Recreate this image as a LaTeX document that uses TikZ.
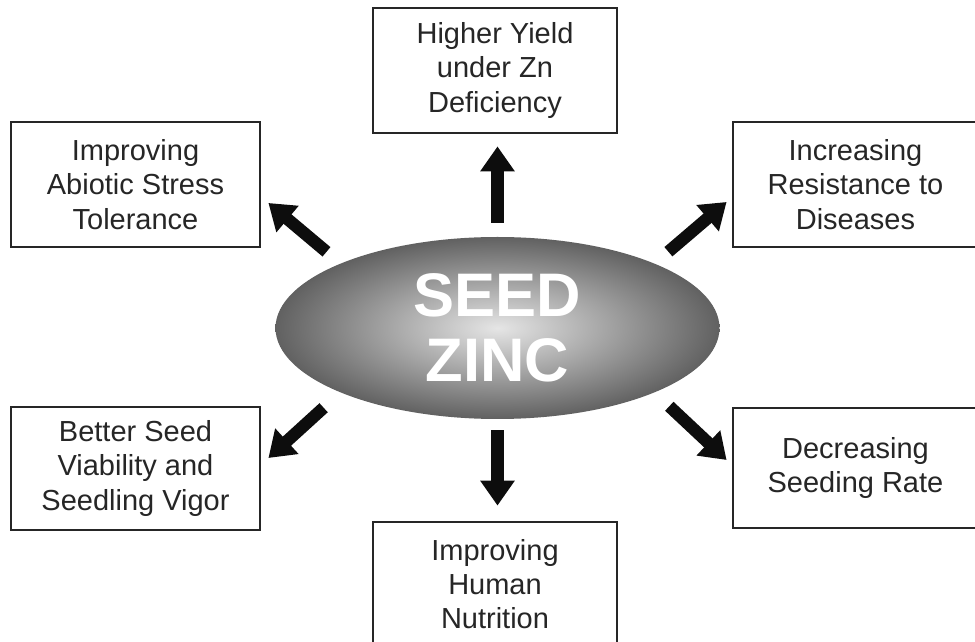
\documentclass[tikz,border=0pt]{standalone}
\usepackage{fontspec}
\setmainfont{Liberation Sans}
\usetikzlibrary{arrows.meta,positioning,calc,shapes.geometric}
\tikzset{
  doboz/.style={draw=black!85,line width=1.6pt,fill=white,align=center,inner sep=2pt,
    font=\fontsize{16.5}{19.5}\selectfont,text=black!85},
  ellip/.style={ellipse,inner sep=0pt,minimum width=8.88cm,minimum height=3.64cm,
    shading=radial,inner color=black!10,outer color=black!62,text=white,align=center,
    font=\bfseries\fontsize{35}{37}\selectfont},
  vastag/.style={line width=7pt,black!95,-{Triangle[width=0.66cm,length=0.5cm]}},
}

\begin{document}
\begin{tikzpicture}
  \useasboundingbox (0,0) rectangle (19.5,12.84);
  \node[ellip] (mag) at (9.95,6.28) {SEED\\ZINC};
  \node[doboz,minimum width=4.88cm,minimum height=2.5cm] (fent) at (9.9,11.43) {Higher Yield\\under Zn\\Deficiency};
  \node[doboz,minimum width=4.98cm,minimum height=2.5cm] (balfent) at (2.71,9.15) {Improving\\Abiotic Stress\\Tolerance};
  \node[doboz,minimum width=4.9cm,minimum height=2.5cm] (jobbfent) at (17.11,9.15) {Increasing\\Resistance to\\Diseases};
  \node[doboz,minimum width=4.98cm,minimum height=2.46cm] (balle) at (2.71,3.47) {Better Seed\\Viability and\\Seedling Vigor};
  \node[doboz,minimum width=4.9cm,minimum height=2.4cm] (jobble) at (17.11,3.48) {Decreasing\\Seeding Rate};
  \node[doboz,minimum width=4.88cm,minimum height=2.48cm] (lent) at (9.9,1.16) {Improving\\Human\\Nutrition};
  \draw[vastag,shorten <=0.28cm,shorten >=0.24cm] (mag.north) -- (mag.north |- fent.south);
  \draw[vastag,shorten <=0.22cm,shorten >=0.3cm] (mag.south) -- (mag.south |- lent.north);
  \draw[vastag,shorten <=0.36cm] (mag.north west) -- ([xshift=0.14cm,yshift=-0.37cm]balfent.east);
  \draw[vastag,shorten <=0.36cm] (mag.north east) -- ([xshift=-0.1cm,yshift=-0.35cm]jobbfent.west);
  \draw[vastag,shorten <=0.45cm] (mag.south west) -- ([xshift=0.14cm,yshift=0.21cm]balle.east);
  \draw[vastag,shorten <=0.4cm] (mag.south east) -- ([xshift=-0.1cm,yshift=0.16cm]jobble.west);
\end{tikzpicture}
\end{document}
